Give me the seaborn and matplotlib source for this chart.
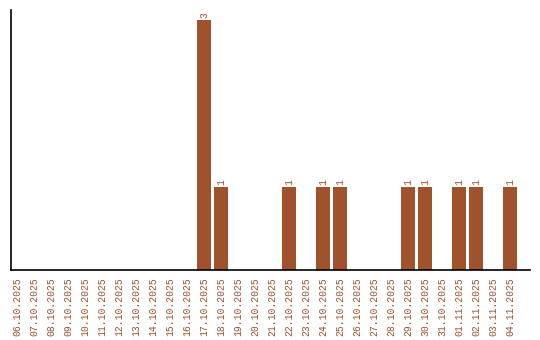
import matplotlib
matplotlib.use("Agg")
import matplotlib.pyplot as plt
import seaborn as sns
import pandas as pd

dates = ["06.10.2025", "07.10.2025", "08.10.2025", "09.10.2025", "10.10.2025",
         "11.10.2025", "12.10.2025", "13.10.2025", "14.10.2025", "15.10.2025",
         "16.10.2025", "17.10.2025", "18.10.2025", "19.10.2025", "20.10.2025",
         "21.10.2025", "22.10.2025", "23.10.2025", "24.10.2025", "25.10.2025",
         "26.10.2025", "27.10.2025", "28.10.2025", "29.10.2025", "30.10.2025",
         "31.10.2025", "01.11.2025", "02.11.2025", "03.11.2025", "04.11.2025"]
counts = [0, 0, 0, 0, 0, 0, 0, 0, 0, 0, 0, 3, 1, 0, 0, 0, 1, 0, 1, 1,
          0, 0, 0, 1, 1, 0, 1, 1, 0, 1]

color = "#A0522D"
df = pd.DataFrame({"date": dates, "count": counts})

sns.set_style("white")
plt.rcParams['font.family'] = ['Liberation Mono', 'DejaVu Sans Mono']

fig = plt.figure(figsize=(5.4, 3.4), dpi=100)
ax = fig.add_axes([11/540, 70/340, 519/540, 260/340])
sns.barplot(data=df, x="date", y="count", color=color, width=0.82, ax=ax,
            saturation=1, linewidth=0)

for i, v in enumerate(counts):
    if v > 0:
        ax.text(i, v + 0.02, str(v), rotation=90, ha="center", va="bottom",
                fontsize=7, color=color)

ax.set_xlim(-0.35, 30.15)
ax.set_ylim(0, 3.12)
ax.set_xlabel("")
ax.set_ylabel("")
ax.set_yticks([])
ax.tick_params(axis="x", length=0, pad=5, labelsize=7, labelcolor=color,
               rotation=90)
for s in ["top", "right"]:
    ax.spines[s].set_visible(False)
for s in ["left", "bottom"]:
    ax.spines[s].set_color("black")
    ax.spines[s].set_linewidth(1.2)

fig.savefig("out.png", dpi=100)
